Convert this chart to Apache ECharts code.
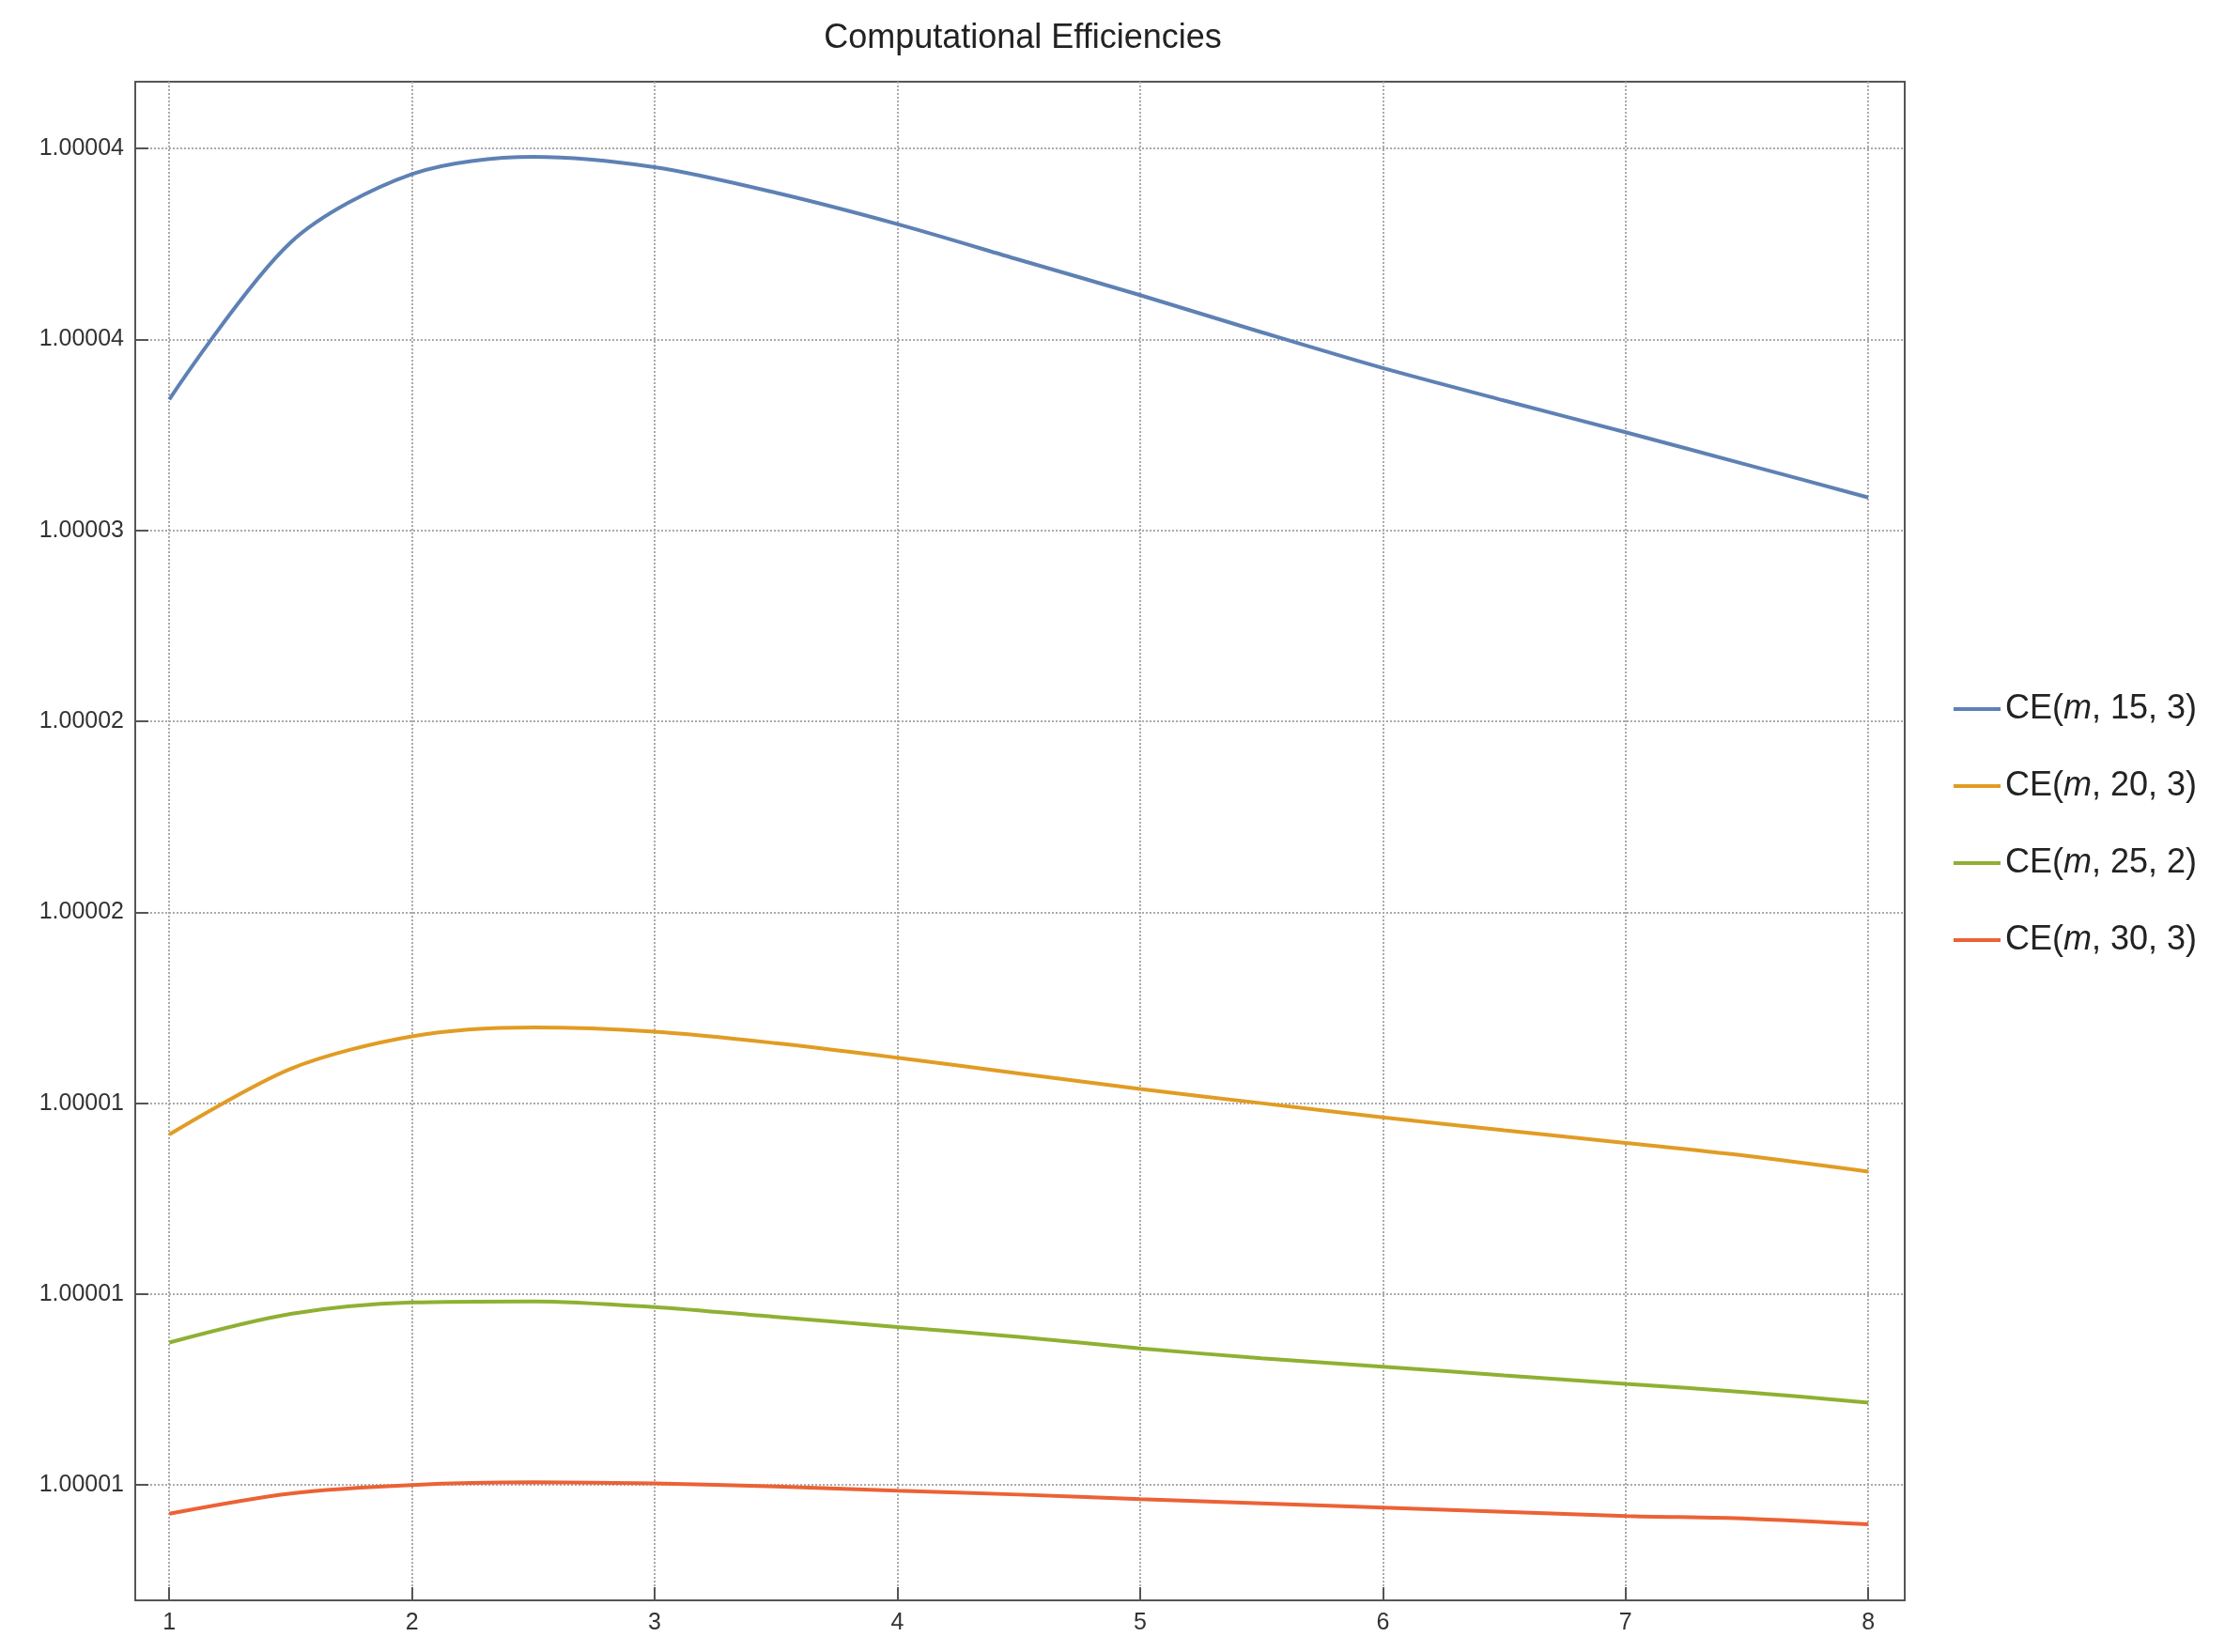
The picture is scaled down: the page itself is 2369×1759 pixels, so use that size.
<!DOCTYPE html>
<html><head><meta charset="utf-8">
<script src="https://cdn.jsdelivr.net/npm/echarts@6/dist/echarts.min.js"></script>
<style>html,body{margin:0;background:#fff}#c{width:2369px;height:1759px}</style>
</head><body><div id="c"></div>
<script>
// m values and CE values expressed as (CE - 1) * 1e6
const mValues = [1, 1.5, 2, 2.5, 3, 3.5, 4, 4.5, 5, 5.5, 6, 6.5, 7, 7.5, 8];
const ce15 = [33.43, 37.54, 39.33, 39.78, 39.51, 38.84, 38.02, 37.09, 36.16, 35.19, 34.25, 33.40, 32.57, 31.72, 30.86];
const ce20 = [14.18, 15.90, 16.75, 16.98, 16.87, 16.57, 16.19, 15.78, 15.37, 15.00, 14.63, 14.29, 13.96, 13.62, 13.21];
const ce25 = [8.73, 9.48, 9.78, 9.81, 9.66, 9.40, 9.14, 8.88, 8.58, 8.32, 8.10, 7.87, 7.65, 7.43, 7.16];
const ce30 = [4.25, 4.78, 5.00, 5.07, 5.04, 4.96, 4.85, 4.75, 4.63, 4.52, 4.41, 4.30, 4.19, 4.12, 3.97];
const seriesNames = ['CE(m, 15, 3)', 'CE(m, 20, 3)', 'CE(m, 25, 2)', 'CE(m, 30, 3)'];
const colors = ['#5E81B5', '#E19C24', '#8FB032', '#EB6235'];
const yTicks = [5, 10, 15, 20, 25, 30, 35, 40];
const yTickLabels = ['1.00001', '1.00001', '1.00001', '1.00002', '1.00002', '1.00003', '1.00004', '1.00004'];
const xTicks = [1, 2, 3, 4, 5, 6, 7, 8];

const font = "'Liberation Sans Narrow', 'Liberation Sans', sans-serif";
const chart = echarts.init(document.getElementById('c'));
const all = [ce15, ce20, ce25, ce30];
chart.setOption({
  animation: false,
  color: colors,
  title: { text: 'Computational Efficiencies', left: 1084, top: 18, textAlign: 'center',
    textStyle: { fontFamily: font, fontWeight: 'normal', fontSize: 36, color: '#222' } },
  grid: { left: 144, right: 341, top: 87, bottom: 55, show: true, borderColor: '#555', borderWidth: 2 },
  legend: {
    orient: 'vertical', left: 2075, top: 732, itemGap: 46, itemWidth: 50, itemHeight: 4,
    icon: 'rect',
    formatter: n => n.replace('(m,', '({i|m},'),
    textStyle: { fontFamily: font, fontSize: 36, color: '#222',
      rich: { i: { fontFamily: font, fontSize: 36, fontStyle: 'italic', color: '#222' } } }
  },
  xAxis: {
    type: 'value', min: 0.86, max: 8.15,
    axisLine: { show: false },
    axisTick: { show: true, inside: true, length: 14, customValues: xTicks, lineStyle: { color: '#555', width: 2 } },
    axisLabel: { customValues: xTicks, fontFamily: font, fontSize: 25, color: '#333', margin: 12 },
    splitLine: { show: true, lineStyle: { type: 'dotted', color: '#aaa', width: 2 } }
  },
  yAxis: {
    type: 'value', min: 1.98, max: 41.75,
    axisLine: { show: false },
    axisTick: { show: true, inside: true, length: 14, customValues: yTicks, lineStyle: { color: '#555', width: 2 } },
    axisLabel: { customValues: yTicks, fontFamily: font, fontSize: 25, color: '#333', margin: 12,
      formatter: v => yTickLabels[yTicks.indexOf(Math.round(v))] },
    splitLine: { show: true, lineStyle: { type: 'dotted', color: '#aaa', width: 2 } }
  },
  series: all.map((arr, k) => ({
    name: seriesNames[k], type: 'line', smooth: 0.3, symbol: 'none',
    lineStyle: { width: 4, color: colors[k] },
    data: mValues.map((m, i) => [m, arr[i]])
  }))
});
</script></body></html>
